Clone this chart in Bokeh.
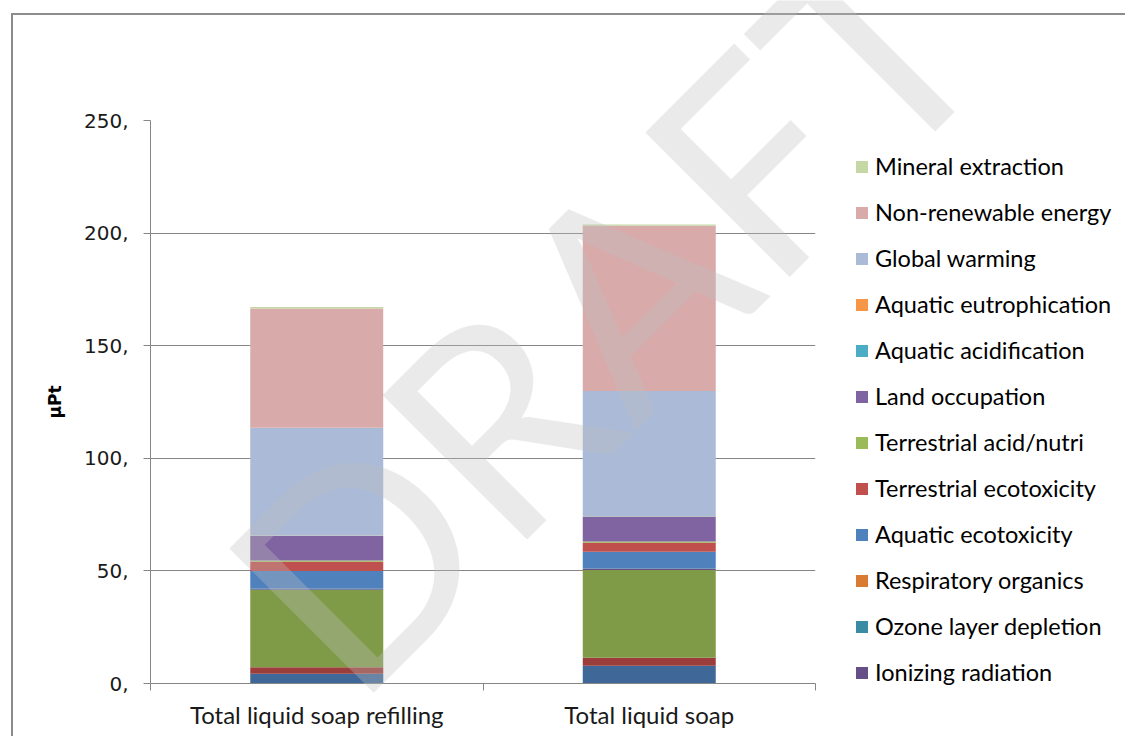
import math
from bokeh.plotting import figure
from bokeh.models import (ColumnDataSource, Range1d, LinearAxis, FixedTicker,
                          CustomJSTickFormatter, Legend, LegendItem, Label)
from bokeh.embed import file_html
from bokeh.resources import INLINE

# ---------------- data ----------------
categories = ["Total liquid soap refilling", "Total liquid soap"]

series = ["Carcinogens", "Non-carcinogens", "Respiratory inorganics",
          "Ionizing radiation", "Ozone layer depletion", "Respiratory organics",
          "Aquatic ecotoxicity", "Terrestrial ecotoxicity", "Terrestrial acid/nutri",
          "Land occupation", "Aquatic acidification", "Aquatic eutrophication",
          "Global warming", "Non-renewable energy", "Mineral extraction"]

carcinogens = [4.3, 7.9]
non_carcinogens = [2.9, 3.5]
respiratory_inorganics = [34.3, 39.0]
ionizing_radiation = [0.4, 0.4]
ozone_layer_depletion = [0.05, 0.05]
respiratory_organics = [0.1, 0.1]
aquatic_ecotoxicity = [7.9, 7.6]
terrestrial_ecotoxicity = [4.1, 3.9]
terrestrial_acid_nutri = [0.6, 0.6]
land_occupation = [10.8, 10.9]
aquatic_acidification = [0.2, 0.2]
aquatic_eutrophication = [0.1, 0.1]
global_warming = [47.8, 55.6]
non_renewable_energy = [53.0, 73.4]
mineral_extraction = [0.6, 0.6]

values = [carcinogens, non_carcinogens, respiratory_inorganics, ionizing_radiation,
          ozone_layer_depletion, respiratory_organics, aquatic_ecotoxicity,
          terrestrial_ecotoxicity, terrestrial_acid_nutri, land_occupation,
          aquatic_acidification, aquatic_eutrophication, global_warming,
          non_renewable_energy, mineral_extraction]

colors = ["#3F6899", "#9B3D3A", "#7F9B48", "#664F86", "#3A8CA3", "#D97B30",
          "#4F81BD", "#C0504D", "#9BBB59", "#8064A2", "#4BACC6", "#F79646",
          "#AABAD7", "#D9AAAA", "#C4D7A4"]

y_ticks = [0, 50, 100, 150, 200, 250]
y_tick_labels = ["0,", "50,", "100,", "150,", "200,", "250,"]
legend_count = 12  # only the top 12 series are visible in the legend
watermark = "DRAFT"

# ---------------- figure ----------------
GRID = "#868686"

data = {"x": [i + 0.5 for i in range(len(categories))]}
keys = []
for i, v in enumerate(values):
    k = "s%d" % i
    keys.append(k)
    data[k] = v
source = ColumnDataSource(data)

p = figure(frame_width=665, frame_height=563, output_backend="svg", toolbar_location=None,
           x_range=Range1d(0, len(categories)), y_range=Range1d(y_ticks[0], y_ticks[-1]),
           x_axis_location=None, min_border_left=137, min_border_top=105,
           min_border_bottom=55, min_border_right=0)
p.styles = {"border-left": "2px solid #8c8c8c", "border-top": "2px solid #8c8c8c",
            "margin-left": "11px", "margin-top": "13px",
            "max-width": "1114px", "max-height": "723px", "overflow": "hidden"}
p.outline_line_color = None
p.background_fill_color = "white"
p.border_fill_color = "white"

renderers = p.vbar_stack(keys, x="x", width=0.4, color=colors, line_color=None,
                         source=source)

# y axis
ya = p.yaxis[0]
ya.ticker = FixedTicker(ticks=y_ticks)
ya.formatter = CustomJSTickFormatter(args=dict(labels=y_tick_labels),
                                     code="return labels[index];")
ya.axis_line_color = GRID
ya.major_tick_line_color = GRID
ya.major_tick_out = 7
ya.major_tick_in = 0
ya.minor_tick_line_color = None
ya.major_label_standoff = 15
ya.major_label_text_font = "DejaVu Sans"
ya.major_label_text_font_size = "20px"
ya.major_label_text_color = "#1a1a1a"
ya.axis_label = "µPt"
ya.axis_label_text_font = "DejaVu Sans"
ya.axis_label_text_font_style = "bold"
ya.axis_label_text_font_size = "17px"
ya.axis_label_text_color = "#000000"
ya.axis_label_standoff = 16

p.ygrid.ticker = FixedTicker(ticks=y_ticks)
p.ygrid.grid_line_color = GRID
p.xgrid.visible = False

# bottom: tick marks at category boundaries (no labels)
tick_axis = LinearAxis(ticker=FixedTicker(ticks=list(range(len(categories) + 1))),
                       formatter=CustomJSTickFormatter(code="return '';"),
                       major_label_text_color=None, major_label_standoff=0,
                       major_tick_out=7, major_tick_in=0,
                       axis_line_color=GRID, major_tick_line_color=GRID,
                       minor_tick_line_color=None)
cat_axis = LinearAxis(ticker=FixedTicker(ticks=[i + 0.5 for i in range(len(categories))]),
                      formatter=CustomJSTickFormatter(args=dict(labels=categories),
                                                      code="return labels[index];"),
                      axis_line_color=None, major_tick_line_color=None,
                      minor_tick_line_color=None, major_tick_out=0, major_tick_in=0,
                      major_label_standoff=9, major_label_text_font="Lato",
                      major_label_text_font_size="24px", major_label_text_color="#1a1a1a")
p.add_layout(tick_axis, "below")
p.add_layout(cat_axis, "below")

# legend (top-most series first), in the right side panel
items = []
for i in range(len(series) - 1, len(series) - 1 - legend_count, -1):
    items.append(LegendItem(label=series[i], renderers=[renderers[i]]))
legend = Legend(items=items, location=(39, -3), orientation="vertical",
                label_text_font="Lato", label_text_font_size="23.5px",
                label_text_color="#000000", glyph_width=15, glyph_height=15,
                label_standoff=6, spacing=18, padding=0, margin=0,
                border_line_color=None, background_fill_alpha=0)
p.add_layout(legend, "right")

# ---------------- watermark overlay ----------------
W, H = 1127, 738
ov = figure(width=W, height=H, output_backend="svg", toolbar_location=None,
            x_range=Range1d(0, W), y_range=Range1d(0, H),
            x_axis_location=None, y_axis_location=None, min_border=0)
ov.grid.visible = False
ov.outline_line_color = None
ov.background_fill_color = None
ov.border_fill_color = None
ov.styles = {"position": "absolute", "left": "0px", "top": "0px",
             "pointer-events": "none", "z-index": "5"}
ov.add_layout(Label(x=277, y=H - 633, text=watermark, angle=math.pi / 4,
                    text_font="Lato", text_font_size="285px",
                    text_color="#BFBFBF", text_alpha=0.33,
                    text_align="left", text_baseline="alphabetic"))

open("out.html", "w").write(file_html([p, ov], INLINE))
